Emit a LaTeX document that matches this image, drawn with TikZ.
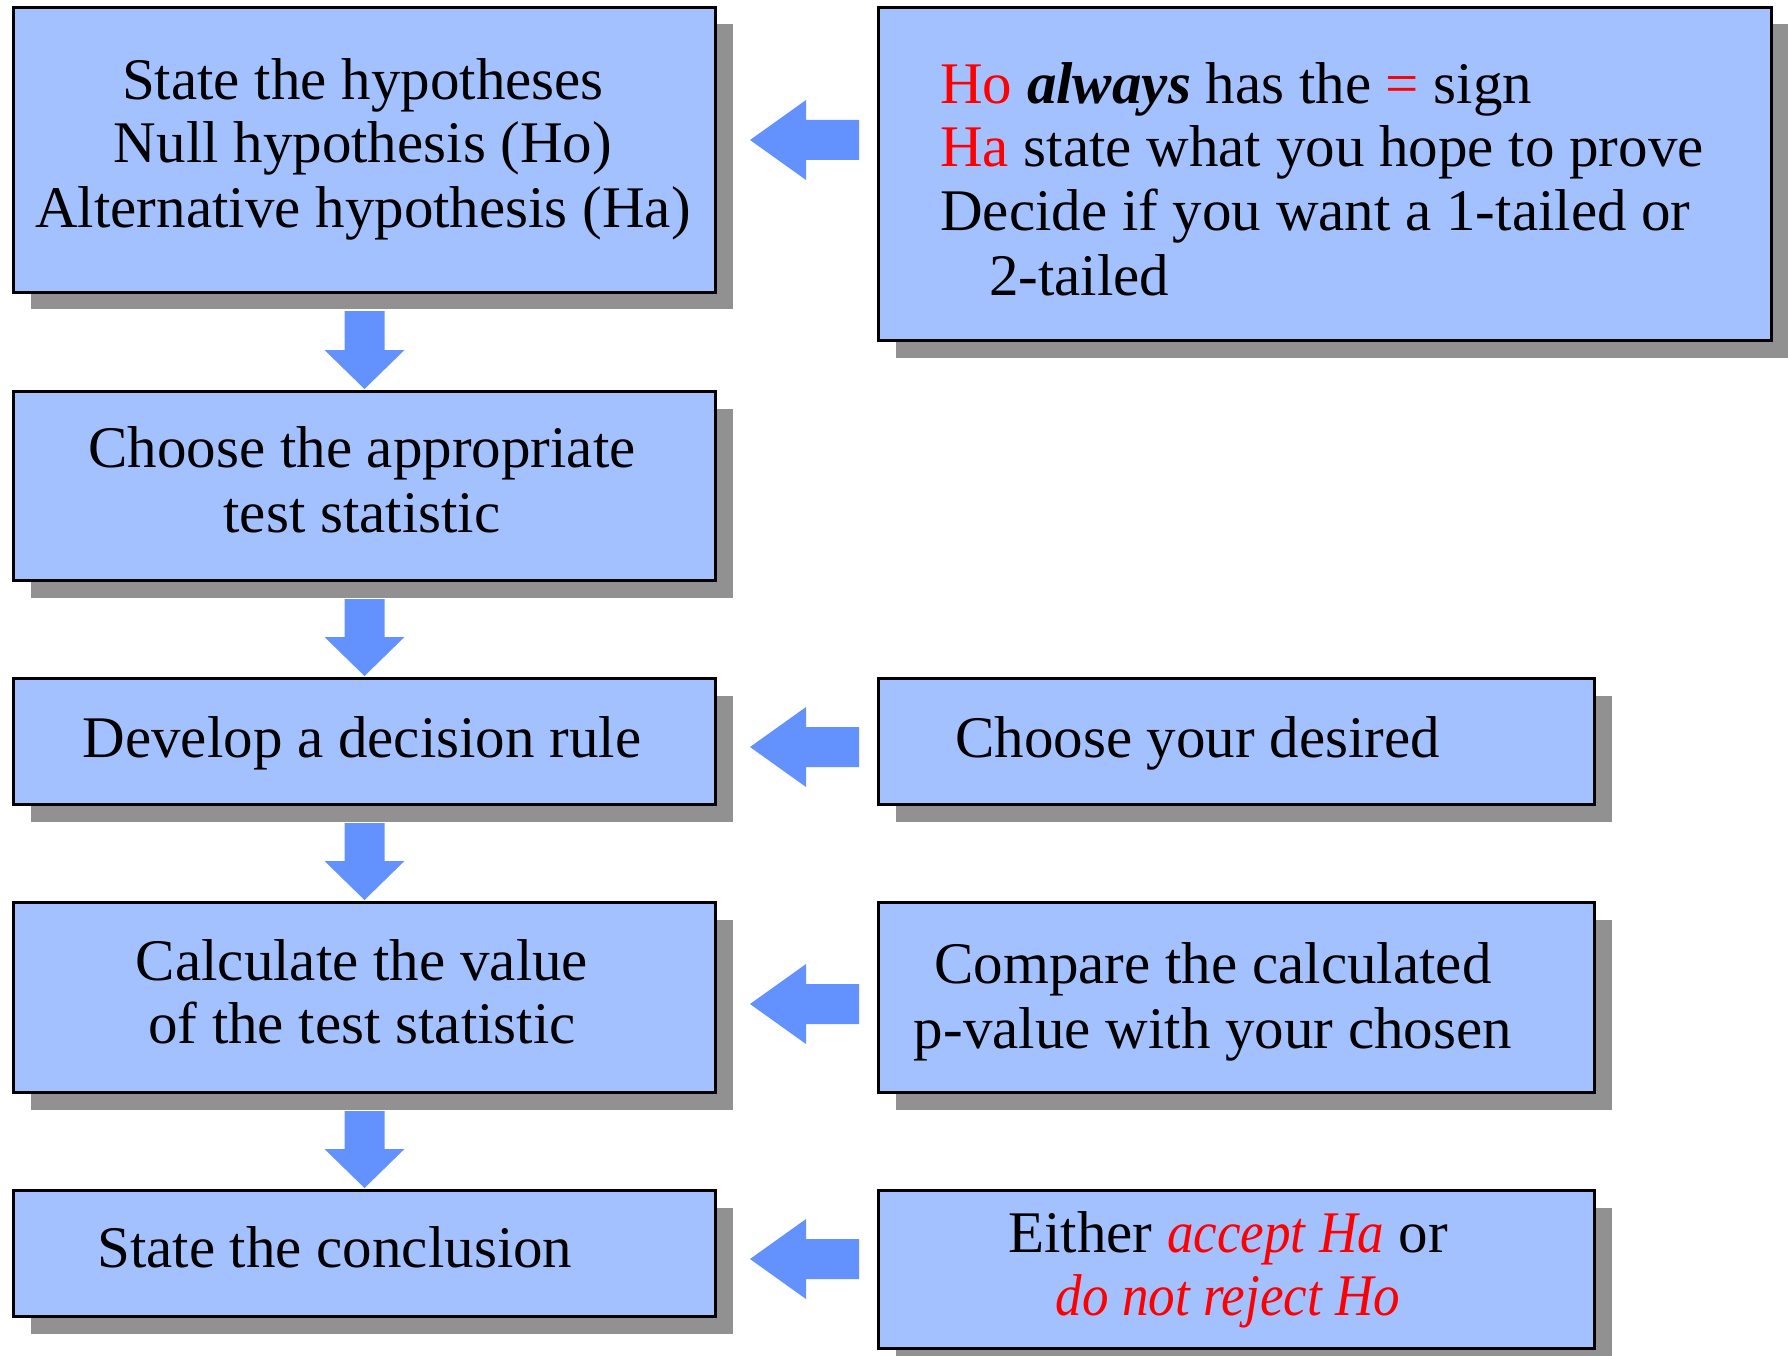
\documentclass[tikz,border=0pt]{standalone}
\usepackage{fontspec}
\setmainfont{Liberation Serif}
\newfontfamily\narrowserif[FakeStretch=0.9]{Liberation Serif}
\usetikzlibrary{calc,shadows}
\definecolor{boxfill}{RGB}{164,193,255}
\definecolor{arrowblue}{RGB}{99,146,255}
\definecolor{shadowgray}{RGB}{145,145,145}
\definecolor{hired}{RGB}{255,0,0}
\newcommand{\hilite}[1]{\textcolor{hired}{{\narrowserif\itshape #1}}}
\newcommand{\vflow}[2]{%
  \fill[flow] ($(#1.south)+(-20,17)$) -- ($(#2.north)+(-20,-40)$) -- ($(#2.north)+(-40,-40)$)
    -- ($(#2.north)+(0,-1)$) -- ($(#2.north)+(40,-40)$) -- ($(#2.north)+(20,-40)$)
    -- ($(#1.south)+(20,17)$) -- cycle;}
\newcommand{\hflow}[3]{%
  \fill[flow] ($(#1.west |- #3)+(-18,-20)$) -- ($(#2.east |- #3)+(89,-20)$) -- ($(#2.east |- #3)+(89,-40)$)
    -- ($(#2.east |- #3)+(33,0)$) -- ($(#2.east |- #3)+(89,40)$) -- ($(#2.east |- #3)+(89,20)$)
    -- ($(#1.west |- #3)+(-18,20)$) -- cycle;}
\begin{document}
\begin{tikzpicture}[x=1pt,y=-1pt,
  box/.style={draw=black, line width=3pt, fill=boxfill, rectangle, inner sep=0pt, anchor=north west,
    drop shadow={shadow xshift=17pt, shadow yshift=-17pt, fill=shadowgray, opacity=1}},
  txt/.style={font=\fontsize{59}{64}\selectfont, inner sep=0pt},
  flow/.style={fill=arrowblue}]
\useasboundingbox[fill=white] (0,0) rectangle (1788,1356);

% boxes
\node[box, minimum width=702pt, minimum height=285pt] (b1) at (12,6) {};
\node[box, minimum width=893pt, minimum height=333pt] (b2) at (877,6) {};
\node[box, minimum width=702pt, minimum height=189pt] (b3) at (12,390) {};
\node[box, minimum width=702pt, minimum height=126pt] (b4) at (12,677) {};
\node[box, minimum width=702pt, minimum height=190pt] (b5) at (12,901) {};
\node[box, minimum width=702pt, minimum height=126pt] (b6) at (12,1189) {};
\node[box, minimum width=716pt, minimum height=126pt] (r2) at (877,677) {};
\node[box, minimum width=716pt, minimum height=190pt] (r3) at (877,901) {};
\node[box, minimum width=716pt, minimum height=158pt] (r4) at (877,1189) {};

% texts
\node[txt, anchor=base] (b1t1) at (363,100) {State the hypotheses};
\node[txt, anchor=base] (b1t2) at (363,163) {Null hypothesis (Ho)};
\node[txt, anchor=base] (b1t3) at (363,228) {Alternative hypothesis (Ha)};

\node[txt, anchor=base west] (b2t1) at (940,104) {\textcolor{hired}{Ho} \textbf{\textit{always}} has the \textcolor{hired}{=} sign};
\node[txt, anchor=base west] (b2t2) at (940,167) {\textcolor{hired}{Ha} state what you hope to prove};
\node[txt, anchor=base west] (b2t3) at (940,231) {Decide if you want a 1-tailed or};
\node[txt, anchor=base west] (b2t4) at (989,295) {2-tailed};

\node[txt, anchor=base] (b3t1) at (362,467) {Choose the appropriate};
\node[txt, anchor=base] (b3t2) at (362,532) {test statistic};

\node[txt, anchor=base] (b4t1) at (362,757) {Develop a decision rule};

\node[txt, anchor=base] (b5t1) at (362,980) {Calculate the value};
\node[txt, anchor=base] (b5t2) at (362,1043) {of the test statistic};

\node[txt, anchor=base west] (b6t1) at (97,1267) {State the conclusion};

\node[txt, anchor=base west] (r2t1) at (955,757) {Choose your desired};

\node[txt, anchor=base] (r3t1) at (1213,983) {Compare the calculated};
\node[txt, anchor=base] (r3t2) at (1213,1048) {p-value with your chosen};

\node[txt, anchor=base] (r4t1) at (1228,1252) {Either \hilite{accept Ha} or};
\node[txt, anchor=base] (r4t2) at (1228,1315) {\hilite{do not reject Ho}};

% down arrows
\vflow{b1}{b3}
\vflow{b3}{b4}
\vflow{b4}{b5}
\vflow{b5}{b6}

% left arrows
\coordinate (y1) at (0,140);
\coordinate (y2) at (0,747);
\coordinate (y3) at (0,1004);
\coordinate (y4) at (0,1259);
\hflow{b2}{b1}{y1}
\hflow{r2}{b4}{y2}
\hflow{r3}{b5}{y3}
\hflow{r4}{b6}{y4}
\end{tikzpicture}
\end{document}
